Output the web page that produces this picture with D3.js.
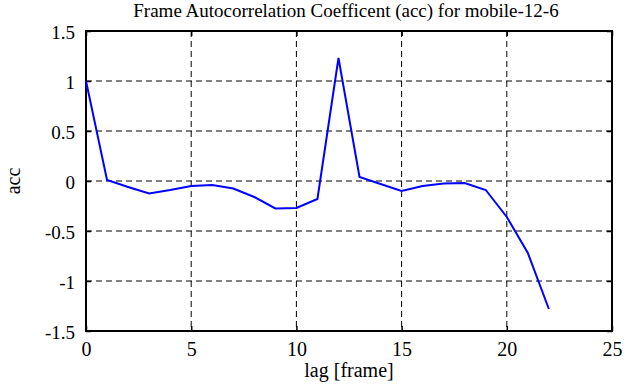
<!DOCTYPE html>
<html>
<head>
<meta charset="utf-8">
<script src="https://cdn.jsdelivr.net/npm/d3@7"></script>
<style>
body { margin: 0; background: #fff; }
text { font-family: "Liberation Serif", "DejaVu Serif", serif; fill: #000; }
</style>
</head>
<body>
<svg id="chart" width="630" height="387"></svg>
<script>
// data
var lags = [0,1,2,3,4,5,6,7,8,9,10,11,12,13,14,15,16,17,18,19,20,21,22];
var acc = [1.0,0.01,-0.06,-0.125,-0.09,-0.05,-0.04,-0.075,-0.16,-0.275,-0.27,-0.18,1.23,0.04,-0.03,-0.1,-0.05,-0.025,-0.02,-0.09,-0.36,-0.72,-1.28];
var xTicks = [0,5,10,15,20,25];
var yTicks = [-1.5,-1,-0.5,0,0.5,1,1.5];

var svg = d3.select("#chart");
var pLeft = 86, pRight = 612, pTop = 31, pBottom = 331;

var x = d3.scaleLinear().domain([0,25]).range([pLeft,pRight]);
var y = d3.scaleLinear().domain([-1.5,1.5]).range([pBottom,pTop]);

// grid
svg.append("g").selectAll("line").data(xTicks.slice(1,-1)).enter().append("line")
   .attr("x1", d => x(d)).attr("x2", d => x(d)).attr("y1", pTop).attr("y2", pBottom)
   .style("stroke","#000").style("stroke-width",1).style("stroke-dasharray","6,4");
svg.append("g").selectAll("line").data(yTicks.slice(1,-1)).enter().append("line")
   .attr("x1", pLeft).attr("x2", pRight).attr("y1", d => y(d)).attr("y2", d => y(d))
   .style("stroke","#000").style("stroke-width",1).style("stroke-dasharray","6,4");

// axes with inward ticks, hyphen minus like the original
var fmt = d => String(d);
svg.append("g").attr("transform","translate(0,"+pBottom+")")
   .call(d3.axisBottom(x).tickValues(xTicks).tickSizeInner(-5).tickSizeOuter(0).tickPadding(25).tickFormat(fmt))
   .call(g => g.select(".domain").remove())
   .attr("font-family", null).attr("font-size", null)
   .selectAll("text").style("font-size","20px").attr("dy","0");
svg.append("g").attr("transform","translate(0,"+pTop+")")
   .call(d3.axisTop(x).tickValues(xTicks).tickSizeInner(-5).tickSizeOuter(0).tickFormat(""))
   .call(g => g.select(".domain").remove());
svg.append("g").attr("transform","translate("+pLeft+",0)")
   .call(d3.axisLeft(y).tickValues(yTicks).tickSizeInner(-5).tickSizeOuter(0).tickPadding(11).tickFormat(fmt))
   .call(g => g.select(".domain").remove())
   .attr("font-family", null).attr("font-size", null)
   .selectAll("text").style("font-size","19px").attr("dy","0.38em");
svg.append("g").attr("transform","translate("+pRight+",0)")
   .call(d3.axisRight(y).tickValues(yTicks).tickSizeInner(-5).tickSizeOuter(0).tickFormat(""))
   .call(g => g.select(".domain").remove());
svg.selectAll(".tick line").style("stroke","#000").style("stroke-width",1.5);

// frame
svg.append("rect").attr("x",pLeft).attr("y",pTop).attr("width",pRight-pLeft).attr("height",pBottom-pTop)
   .style("fill","none").style("stroke","#000").style("stroke-width",2);

// series
var line = d3.line().x((d,i) => x(lags[i])).y(d => y(d));
svg.append("path").datum(acc).attr("d",line)
   .style("fill","none").style("stroke","#0000ff").style("stroke-width",2);

// labels
svg.append("text").attr("x",346).attr("y",17).attr("text-anchor","middle")
   .style("font-size","19px").text("Frame Autocorrelation Coefficent (acc) for mobile-12-6");
svg.append("text").attr("x",(pLeft+pRight)/2).attr("y",377).attr("text-anchor","middle")
   .style("font-size","20px").text("lag [frame]");
svg.append("text").attr("transform","translate(20,"+y(0)+") rotate(-90)").attr("text-anchor","middle")
   .style("font-size","20px").text("acc");
</script>
</body>
</html>
